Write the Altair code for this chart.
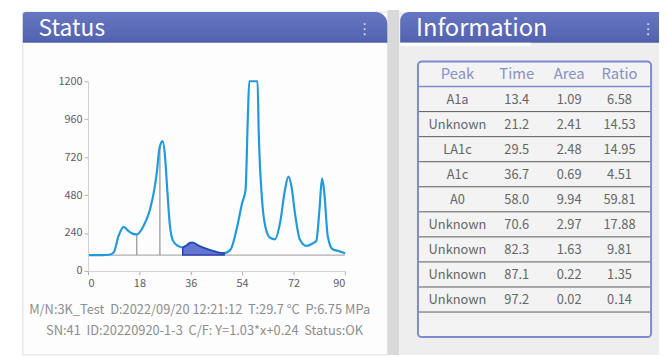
import altair as alt
import pandas as pd

# ---------------- data ----------------
times = [0, 5, 7.3, 9, 10.7, 12.5, 14.2, 15.6, 17.1, 19.4, 21.7, 23.4, 24.2, 24.9, 25.6, 26.1,
         26.9, 27.7, 28.6, 29.8, 31.5, 33.2, 34.5, 35.8, 36.7, 38.5, 40.2, 43.6, 46, 47.7, 50,
         52.3, 54, 55.2, 56, 56.5, 59.4, 59.8, 60.9, 62.1, 63.8, 65.5, 67.3, 69, 70.2, 71.3,
         72.5, 74.2, 76.5, 78.8, 80, 81.1, 82.0, 82.8, 84, 85.7, 87.5, 89.8, 90]
signal = [100, 100, 102, 117, 221, 279, 252, 236, 231, 283, 387, 533, 637, 762, 810, 821,
          742, 533, 304, 190, 158, 148, 160, 178, 179, 162, 148, 127, 115, 112, 137,
          283, 429, 512, 971, 1200, 1200, 888, 471, 283, 210, 200, 304, 512, 596, 533,
          367, 200, 158, 175, 190, 387, 585, 492, 221, 137, 127, 112, 108]
baseline_level = 100
split_times = [17.1, 25.2, 33.2]
split_tops = [231, 794, 148]
shaded_start, shaded_end = 33.2, 47.7

x_ticks = [0, 18, 36, 54, 72, 90]
y_ticks = [0, 240, 480, 720, 960, 1200]

columns = ["Peak", "Time", "Area", "Ratio"]
peaks = ["A1a", "Unknown", "LA1c", "A1c", "A0", "Unknown", "Unknown", "Unknown", "Unknown"]
peak_times = [13.4, 21.2, 29.5, 36.7, 58.0, 70.6, 82.3, 87.1, 97.2]
areas = [1.09, 2.41, 2.48, 0.69, 9.94, 2.97, 1.63, 0.22, 0.02]
ratios = [6.58, 14.53, 14.95, 4.51, 59.81, 17.88, 9.81, 1.35, 0.14]

status_title = "Status"
info_title = "Information"
NB = "\u00a0"
info_line1 = f"M/N:3K_Test{NB} D:2022/09/20 12:21:12{NB} T:29.7 °C{NB} P:6.75 MPa"
info_line2 = f"SN:41{NB} ID:20220920-1-3{NB} C/F: Y=1.03*x+0.24{NB} Status:OK"

# ---------------- layout helpers ----------------
W, H = 659, 349
M = 8  # page margin
FONT = "Noto Sans CJK SC"
one = pd.DataFrame({"k": [0]})


def P(v):
    return v - M


def box(x0, x1, y0, y1, **kw):
    return alt.Chart(one).mark_rect(**kw).encode(
        x=alt.value(P(x0)), x2=alt.value(P(x1)), y=alt.value(P(y0)), y2=alt.value(P(y1)))


def label(txt, x, y, **kw):
    return alt.Chart(pd.DataFrame({"txt": [txt]})).mark_text(**kw).encode(
        x=alt.value(P(x)), y=alt.value(P(y)), text="txt:N")


header_fill = alt.Gradient(
    gradient="linear",
    stops=[alt.GradientStop(color="#6676c0", offset=0),
           alt.GradientStop(color="#5666b3", offset=0.8),
           alt.GradientStop(color="#4f60aa", offset=1)],
    x1=0, x2=0, y1=0, y2=1)

decor = [
    box(392, 404, 8, 357, fill="#d9d9d9"),
    box(23, 392, 10, 357, fill="#fdfdfd", stroke="#e0e0e0", strokeWidth=1),
    box(404, 667, 10, 357, fill="#eeeeee"),
    box(23, 392, 10, 41, fill=header_fill, cornerRadiusTopRight=12, cornerRadiusTopLeft=3),
    box(405, 667, 10, 41, fill=header_fill, cornerRadiusTopLeft=9),
    box(405, 537, 41, 44, fill="#ffffff"),
    box(423, 659, 60, 339, fill="#f3f3f3", stroke="#7e8ad0", strokeWidth=2, cornerRadius=4),
    label(status_title, 39, 34, font=FONT, fontSize=23, color="#ffffff", align="left", baseline="alphabetic"),
    label(info_title, 421, 34, font=FONT, fontSize=24, color="#ffffff", align="left", baseline="alphabetic"),
    label("⋮", 369, 27, font="DejaVu Sans", fontSize=15, color="#d8ddf2", align="center", baseline="middle"),
    label("⋮", 656, 27, font="DejaVu Sans", fontSize=15, color="#d8ddf2", align="center", baseline="middle"),
    label(info_line1, 202, 312, font=FONT, fontSize=13, color="#8e8e8e", align="center", baseline="middle"),
    label(info_line2, 207, 333, font=FONT, fontSize=13, color="#8e8e8e", align="center", baseline="middle"),
]

# ---------------- chromatogram ----------------
curve_df = pd.DataFrame({"t": times, "v": signal})
shaded_df = curve_df[(curve_df.t >= shaded_start) & (curve_df.t <= shaded_end)].copy()
shaded_df["b"] = baseline_level
split_df = pd.DataFrame({"t": split_times, "v": split_tops, "b": [baseline_level] * len(split_times)})
base_df = pd.DataFrame({"t": [times[0]], "t2": [times[-1]], "v": [baseline_level]})

xs = alt.Scale(domain=[0, 90], range=[P(89), P(349)], nice=False, zero=False)
ys = alt.Scale(domain=[0, 1200], range=[P(272), P(80)], nice=False)
axis_common = dict(grid=False, title=None, domainColor="#cfcfcf", tickColor="#b0b0b0", tickSize=4,
                   labelColor="#5e5e5e", labelFontSize=11, labelFont=FONT, format="d", zindex=1)
x_axis = alt.Axis(values=x_ticks, orient="bottom", offset=-(H - P(272)), labelPadding=3, **axis_common)
y_axis = alt.Axis(values=y_ticks, orient="left", offset=-P(89), labelPadding=2, **axis_common)

X = alt.X("t:Q", scale=xs, axis=x_axis)
Y = alt.Y("v:Q", scale=ys, axis=y_axis)

base_rule = alt.Chart(base_df).mark_rule(color="#9a9a9a", strokeWidth=1).encode(x=X, x2="t2:Q", y=Y)
split_rules = alt.Chart(split_df).mark_rule(color="#7a7a7a", strokeWidth=1).encode(x=X, y=Y, y2="b:Q")
curve = alt.Chart(curve_df).mark_line(color="#2299dd", strokeWidth=2.2, interpolate="monotone").encode(x=X, y=Y)
shade = alt.Chart(shaded_df).mark_area(color="#5b6fcf", opacity=0.95, stroke="#2b3cae", strokeWidth=1.5,
                                       interpolate="monotone").encode(x=X, y=Y, y2="b:Q")

chrom = alt.layer(base_rule, split_rules, curve, shade)

# ---------------- table ----------------
table_df = pd.DataFrame({"row": list(range(1, len(peaks) + 1)), "peak": peaks, "time": peak_times,
                         "area": areas, "ratio": ratios})
head_df = pd.DataFrame({"row": [0] * len(columns), "col": columns})
line_df = pd.DataFrame({"row": list(range(2, len(peaks) + 2))})
head_line_df = pd.DataFrame({"row": [1]})

ts = alt.Scale(domain=[0, 11], range=[P(60), P(339)])
TY = alt.Y("rc:Q", scale=ts, axis=None)
col_x = [463, 523, 576, 627]


def col_text(field, x, fmt=None):
    txt = alt.Text(f"{field}:Q", format=fmt) if fmt else alt.Text(f"{field}:N")
    return alt.Chart(table_df).transform_calculate(rc="datum.row + 0.5").mark_text(
        font=FONT, fontSize=13, color="#666666", align="center", baseline="middle", dy=1).encode(
        x=alt.value(P(x)), y=TY, text=txt)


head_layers = [
    alt.Chart(head_df).transform_filter(alt.datum.col == c).transform_calculate(rc="datum.row + 0.5")
    .mark_text(font=FONT, fontSize=15, color="#8790c2", align="center", baseline="middle", dy=0)
    .encode(x=alt.value(P(x)), y=TY, text="col:N")
    for c, x in zip(columns, col_x)
]

row_lines = alt.Chart(line_df).transform_calculate(rc="datum.row").mark_rule(
    color="#5a5a5a", strokeWidth=1).encode(x=alt.value(P(424)), x2=alt.value(P(658)), y=TY)
head_line = alt.Chart(head_line_df).transform_calculate(rc="datum.row").mark_rule(
    color="#7e8ad0", strokeWidth=1.5).encode(x=alt.value(P(424)), x2=alt.value(P(658)), y=TY)

table = alt.layer(
    row_lines, head_line, *head_layers,
    col_text("peak", col_x[0]),
    col_text("time", col_x[1], ".1f"),
    col_text("area", col_x[2], ".2f"),
    col_text("ratio", col_x[3], ".2f"),
)

chart = alt.layer(*decor, chrom, table).resolve_scale(x="independent", y="independent").properties(
    width=W, height=H, autosize=alt.AutoSizeParams(type="none"), padding=0, background="#ffffff"
).configure_view(strokeWidth=0)

chart.save("out.html", embed_options={"renderer": "svg", "actions": False})
